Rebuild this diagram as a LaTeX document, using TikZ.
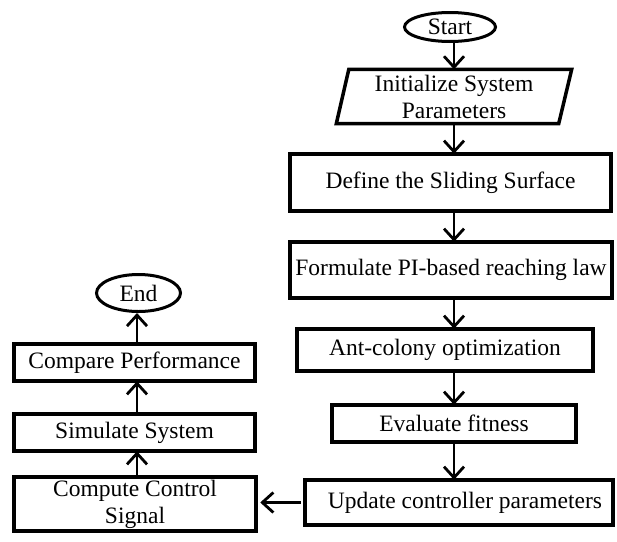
\documentclass[tikz,border=0pt]{standalone}
\usepackage{fontspec}
\setmainfont{Liberation Serif}
\usetikzlibrary{arrows.meta,shapes.geometric}
\begin{document}
\begin{tikzpicture}[x=1pt,y=-1pt,
  every node/.style={font=\fontsize{23.5}{27}\selectfont, align=center, inner sep=0pt},
  box/.style={draw, line width=4.5pt, rectangle},
  term/.style={draw, line width=3pt, ellipse},
  arr/.style={line width=2.8pt, -{Straight Barb[length=11pt,width=20pt,line width=2.8pt]}}]
\useasboundingbox (0,0) rectangle (617,541);
% right column
\node[term, minimum width=91, minimum height=29] (start) at (450,27) {Start};
\node[minimum width=220, minimum height=54] (init) at (454,96.5) {Initialize System\\Parameters};
\draw[line width=3.5pt, line join=miter] ([xshift=5]init.north west) -- ([xshift=7.5]init.north east)
  -- ([xshift=-5.5]init.south east) -- ([xshift=-7.5]init.south west) -- cycle;
\node[box, minimum width=321, minimum height=57] (define) at (450.5,182.5) {Define the Sliding Surface};
\node[box, minimum width=322, minimum height=56] (form) at (451,270) {Formulate PI-based reaching law};
\node[box, minimum width=296, minimum height=42] (ant) at (445,350) {Ant-colony optimization};
\node[box, minimum width=244, minimum height=37] (eval) at (454,423.5) {Evaluate fitness};
\node[box, minimum width=308, minimum height=45] (upd) at (459,502.5) {\hspace*{12pt}Update controller parameters};
% left column
\node[term, minimum width=84, minimum height=37] (end) at (138.5,293) {End};
\node[box, minimum width=241, minimum height=37] (cmp) at (134.5,362.5) {Compare Performance};
\node[box, minimum width=241, minimum height=37] (sim) at (134.5,432.5) {Simulate System};
\node[box, minimum width=242, minimum height=54] (comp) at (135,504) {Compute Control\\Signal};
\coordinate (rc) at (454,0);
\coordinate (lc) at (137,0);
% connectors
\draw[arr] (start.south -| rc) -- (init.north -| rc);
\draw[arr] (init.south -| rc) -- ([yshift=-2]define.north -| rc);
\draw[arr] ([yshift=2]define.south -| rc) -- ([yshift=-2]form.north -| rc);
\draw[arr] ([yshift=2]form.south -| rc) -- ([yshift=-2]ant.north -| rc);
\draw[arr] ([yshift=2]ant.south -| rc) -- ([yshift=-2]eval.north -| rc);
\draw[arr] ([yshift=2]eval.south -| rc) -- ([yshift=-2]upd.north -| rc);
\draw[arr] ([xshift=-2]upd.west) -- ([xshift=2]comp.east |- upd.west);
\draw[arr] ([yshift=-2]comp.north -| lc) -- ([yshift=2]sim.south -| lc);
\draw[arr] ([yshift=-2]sim.north -| lc) -- ([yshift=2]cmp.south -| lc);
\draw[arr] ([yshift=-2]cmp.north -| lc) -- (end.south -| lc);
\end{tikzpicture}
\end{document}
